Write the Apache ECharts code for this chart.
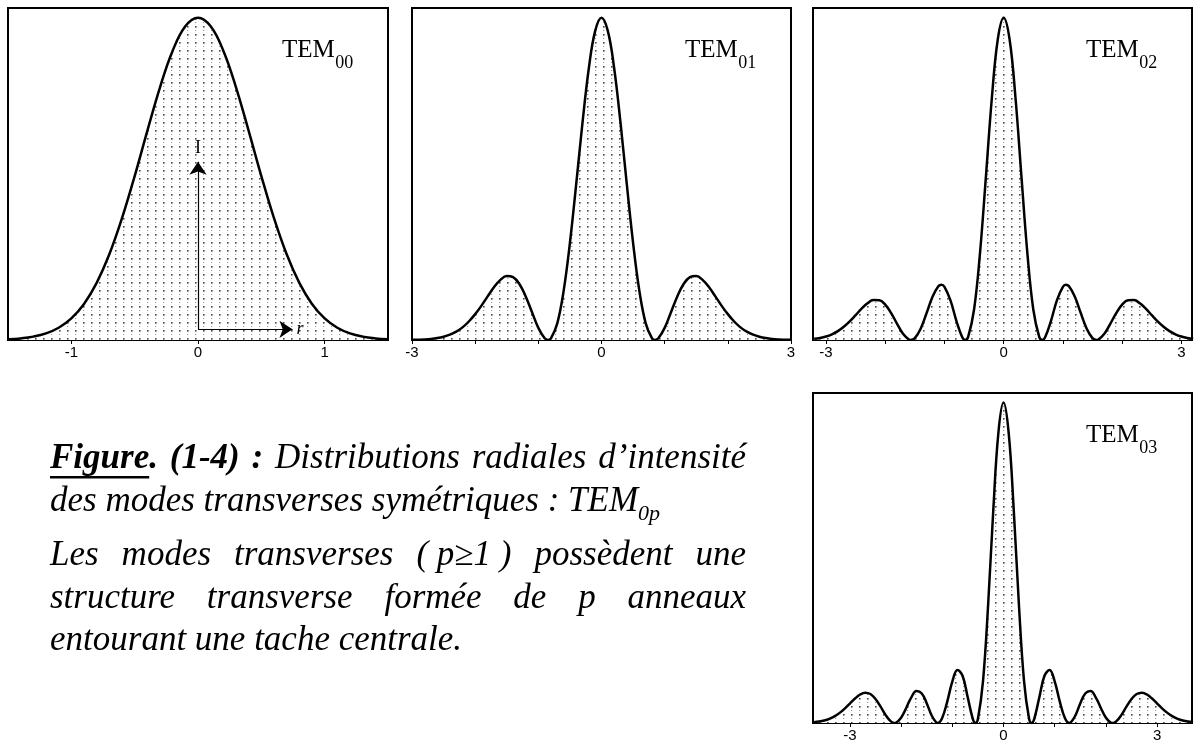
<!DOCTYPE html>
<html>
<head>
<meta charset="utf-8">
<script src="https://cdn.jsdelivr.net/npm/echarts@6/dist/echarts.min.js"></script>
<style>
  html, body { margin: 0; padding: 0; background: #fff; }
  #chart { width: 1194px; height: 751px; }
</style>
</head>
<body>
<div id="chart"></div>
<script>
// Radial intensity profiles of the symmetric transverse modes TEM0p.
// r = radial coordinate, i = normalised intensity.
const r00 = [-1.5,-1.4,-1.3,-1.2,-1.1,-1.0,-0.9,-0.8,-0.7,-0.6,-0.5,-0.4,-0.3,-0.2,-0.1,0,
             0.1,0.2,0.3,0.4,0.5,0.6,0.7,0.8,0.9,1.0,1.1,1.2,1.3,1.4,1.5];
const i00 = [0.0023,0.0050,0.0104,0.0204,0.0379,0.0669,0.1119,0.1772,0.2658,0.3778,0.5086,0.6488,0.7840,0.8975,0.9733,1.0000,
             0.9733,0.8975,0.7840,0.6488,0.5086,0.3778,0.2658,0.1772,0.1119,0.0669,0.0379,0.0204,0.0104,0.0050,0.0023];

const r01 = [-3.0,-2.9,-2.8,-2.7,-2.6,-2.5,-2.4,-2.3,-2.2,-2.1,-2.0,-1.9,-1.8,-1.7,-1.6,-1.5,-1.4,-1.3,-1.2,-1.1,-1.0,-0.9,-0.85,-0.8,-0.7,-0.6,-0.5,-0.4,-0.3,-0.2,-0.1,0,
             0.1,0.2,0.3,0.4,0.5,0.6,0.7,0.8,0.85,0.9,1.0,1.1,1.2,1.3,1.4,1.5,1.6,1.7,1.8,1.9,2.0,2.1,2.2,2.3,2.4,2.5,2.6,2.7,2.8,2.9,3.0];
const i01 = [0.0005,0.0010,0.0018,0.0033,0.0059,0.0100,0.0164,0.0258,0.0392,0.0574,0.0802,0.1067,0.1361,0.1641,0.1866,0.1984,0.1949,0.1736,0.1353,0.0863,0.0377,0.0051,0,0.0051,0.0517,0.1516,0.3011,0.4844,0.6757,0.8438,0.9590,1.0000,
             0.9590,0.8438,0.6757,0.4844,0.3011,0.1516,0.0517,0.0051,0,0.0051,0.0377,0.0863,0.1353,0.1736,0.1949,0.1984,0.1866,0.1641,0.1361,0.1067,0.0802,0.0574,0.0392,0.0258,0.0164,0.0100,0.0059,0.0033,0.0018,0.0010,0.0005];

const r02 = [-3.2,-3.1,-3.0,-2.9,-2.8,-2.7,-2.6,-2.5,-2.4,-2.3,-2.2,-2.1,-2.0,-1.9,-1.8,-1.7,-1.6,-1.57,-1.5,-1.4,-1.3,-1.2,-1.1,-1.05,-1.0,-0.9,-0.8,-0.7,-0.65,-0.6,-0.5,-0.4,-0.3,-0.2,-0.1,0,
             0.1,0.2,0.3,0.4,0.5,0.6,0.65,0.7,0.8,0.9,1.0,1.05,1.1,1.2,1.3,1.4,1.5,1.57,1.6,1.7,1.8,1.9,2.0,2.1,2.2,2.3,2.4,2.5,2.6,2.7,2.8,2.9,3.0,3.1,3.2];
const i02 = [0.0036,0.0064,0.0109,0.0178,0.0277,0.0411,0.0579,0.0772,0.0970,0.1139,0.1240,0.1233,0.1095,0.0834,0.0502,0.0191,0.0013,0,0.0059,0.0359,0.0845,0.1353,0.1677,0.1714,0.1649,0.1237,0.0602,0.0085,0,0.0095,0.0946,0.2696,0.5068,0.7500,0.9324,1.0000,
             0.9324,0.7500,0.5068,0.2696,0.0946,0.0095,0,0.0085,0.0602,0.1237,0.1649,0.1714,0.1677,0.1353,0.0845,0.0359,0.0059,0,0.0013,0.0191,0.0502,0.0834,0.1095,0.1233,0.1240,0.1139,0.0970,0.0772,0.0579,0.0411,0.0277,0.0178,0.0109,0.0064,0.0036];

const r03 = [-3.7,-3.6,-3.5,-3.4,-3.3,-3.2,-3.1,-3.0,-2.9,-2.8,-2.7,-2.6,-2.5,-2.4,-2.3,-2.2,-2.13,-2.1,-2.0,-1.9,-1.8,-1.7,-1.6,-1.5,-1.4,-1.3,-1.285,-1.2,-1.1,-1.0,-0.9,-0.8,-0.7,-0.6,-0.55,-0.5,-0.4,-0.3,-0.2,-0.1,0,
             0.1,0.2,0.3,0.4,0.5,0.55,0.6,0.7,0.8,0.9,1.0,1.1,1.2,1.285,1.3,1.4,1.5,1.6,1.7,1.8,1.9,2.0,2.1,2.13,2.2,2.3,2.4,2.5,2.6,2.7,2.8,2.9,3.0,3.1,3.2,3.3,3.4,3.5,3.6,3.7];
const i03 = [0.0024,0.0044,0.0078,0.0131,0.0209,0.0316,0.0451,0.0607,0.0763,0.0889,0.0946,0.0904,0.0751,0.0510,0.0245,0.0049,0,0.0008,0.0163,0.0470,0.0802,0.0995,0.0930,0.0619,0.0226,0.0004,0,0.0150,0.0662,0.1292,0.1654,0.1473,0.0808,0.0129,0,0.0124,0.1317,0.3707,0.6642,0.9063,1.0000,
             0.9063,0.6642,0.3707,0.1317,0.0124,0,0.0129,0.0808,0.1473,0.1654,0.1292,0.0662,0.0150,0,0.0004,0.0226,0.0619,0.0930,0.0995,0.0802,0.0470,0.0163,0.0008,0,0.0049,0.0245,0.0510,0.0751,0.0904,0.0946,0.0889,0.0763,0.0607,0.0451,0.0316,0.0209,0.0131,0.0078,0.0044,0.0024];

// Axis ticks and tick labels
const ticks00 = [-1, 0, 1];
const labels00 = [-1, 0, 1];
const ticks0p = [-3, -2, -1, 0, 1, 2, 3];
const labels0p = [-3, 0, 3];

// Mode names (subscript part)
const modeNames = ['00', '01', '02', '03'];

// Coordinate-axis sketch drawn inside the TEM00 panel
const sketchOrigin = [0, 0.033];
const sketchTopI = 0.553;
const sketchEndR = 0.746;

const panels = [
  { grid: { left: 8,   top: 8,   width: 380, height: 332 }, min: -1.5,  max: 1.5,  ticks: ticks00, labels: labels00, r: r00, i: i00 },
  { grid: { left: 412, top: 8,   width: 379, height: 332 }, min: -3,    max: 3,    ticks: ticks0p, labels: labels0p, r: r01, i: i01 },
  { grid: { left: 813, top: 8,   width: 379, height: 332 }, min: -3.22, max: 3.18, ticks: ticks0p, labels: labels0p, r: r02, i: i02 },
  { grid: { left: 813, top: 393, width: 379, height: 330 }, min: -3.72, max: 3.68, ticks: ticks0p, labels: labels0p, r: r03, i: i03 }
];

const SERIF = '"Liberation Serif", "Times New Roman", serif';
const SANS = '"Liberation Sans", Arial, sans-serif';

// dotted fill tile
function dotTile() {
  const c = document.createElement('canvas');
  c.width = 8; c.height = 8;
  const g = c.getContext('2d');
  g.fillStyle = '#ffffff';
  g.fillRect(0, 0, 8, 8);
  g.fillStyle = '#4a4a4a';
  g.fillRect(3, 2, 1.6, 1.6);
  g.fillStyle = '#9a9a9a';
  g.fillRect(3, 6, 1.2, 1.0);
  return c;
}
const tile = dotTile();

const measureCtx = document.createElement('canvas').getContext('2d');
function textWidth(text, font) {
  measureCtx.font = font;
  return measureCtx.measureText(text).width;
}

const grids = [], xAxes = [], yAxes = [], series = [], graphics = [];

panels.forEach((p, k) => {
  grids.push(Object.assign({ show: true, borderColor: '#000', borderWidth: 2, backgroundColor: 'transparent' }, p.grid));
  xAxes.push({
    type: 'value', gridIndex: k, min: p.min, max: p.max,
    axisLine: { show: true, onZero: false, lineStyle: { color: '#000', width: 2 } },
    axisTick: { show: true, inside: false, length: 4, customValues: p.ticks, lineStyle: { color: '#000', width: 1 } },
    axisLabel: { show: true, customValues: p.labels, color: '#000', fontFamily: SANS, fontSize: 15, margin: 5 },
    splitLine: { show: false }
  });
  yAxes.push({
    type: 'value', gridIndex: k, min: 0, max: 1.03,
    axisLine: { show: false }, axisTick: { show: false }, axisLabel: { show: false }, splitLine: { show: false }
  });
  const s = {
    type: 'line', xAxisIndex: k, yAxisIndex: k,
    data: p.r.map((r, j) => [r, p.i[j]]),
    smooth: 0.4, symbol: 'none', showSymbol: false,
    lineStyle: { color: '#000', width: 2.5 },
    areaStyle: { color: { image: tile, repeat: 'repeat' }, opacity: 1 },
    silent: true, animation: false, z: 3
  };
  if (k === 0) {
    s.markLine = {
      silent: true, animation: false, symbol: ['none', 'arrow'], symbolSize: 13,
      lineStyle: { color: '#000', width: 1.2, type: 'solid' },
      emphasis: { disabled: true },
      data: [
        [{ coord: sketchOrigin }, { coord: [sketchOrigin[0], sketchTopI],
           label: { show: true, position: 'end', formatter: 'I', distance: 4, color: '#000', fontFamily: SERIF, fontSize: 18 } }],
        [{ coord: sketchOrigin }, { coord: [sketchEndR, sketchOrigin[1]],
           label: { show: true, position: 'end', formatter: 'r', distance: 4, color: '#000', fontFamily: SERIF, fontStyle: 'italic', fontSize: 18 } }]
      ]
    };
  }
  series.push(s);

  // mode name: TEM with subscript
  const g = p.grid;
  const tx = g.left + g.width - 106;
  const baseY = g.top + 51;
  const temFont = '25px ' + SERIF;
  const subFont = '18px ' + SERIF;
  graphics.push({ type: 'text', x: tx, y: baseY - 8.5, silent: true, z: 10,
    style: { text: 'TEM', font: temFont, fill: '#000', align: 'left', verticalAlign: 'middle' } });
  graphics.push({ type: 'text', x: tx + textWidth('TEM', temFont) + 0.5, y: baseY + 4, silent: true, z: 10,
    style: { text: modeNames[k], font: subFont, fill: '#000', align: 'left', verticalAlign: 'middle' } });
});

// Caption (justified paragraph)
const capSize = 35;
const fI = 'italic ' + capSize + 'px ' + SERIF;
const fB = 'italic bold ' + capSize + 'px ' + SERIF;
const capLeft = 50, capRight = 746;
const capLines = [
  { base: 471,   justify: true,  words: [['Figure.', fB], ['(1-4)', fB], [':', fB], ['Distributions', fI], ['radiales', fI], ['d’intensité', fI]] },
  { base: 513.5, justify: false, words: [['des modes transverses symétriques : TEM', fI]], sub: '0p' },
  { base: 568,   justify: true,  words: [['Les', fI], ['modes', fI], ['transverses', fI], ['( p≥1 )', fI], ['possèdent', fI], ['une', fI]] },
  { base: 610.5, justify: true,  words: [['structure', fI], ['transverse', fI], ['formée', fI], ['de', fI], ['p', fI], ['anneaux', fI]] },
  { base: 653,   justify: false, words: [['entourant une tache centrale.', fI]] }
];
const midShift = 0.3375; // em offset from alphabetic baseline to text middle

capLines.forEach(line => {
  const widths = line.words.map(w => textWidth(w[0], w[1]));
  const total = widths.reduce((a, b) => a + b, 0);
  const gap = line.justify && line.words.length > 1
    ? (capRight - capLeft - total) / (line.words.length - 1)
    : textWidth(' ', fI);
  const y = line.base - midShift * capSize;
  let x = capLeft;
  line.words.forEach((w, j) => {
    graphics.push({ type: 'text', x: x, y: y, silent: true,
      style: { text: w[0], font: w[1], fill: '#000', align: 'left', verticalAlign: 'middle' } });
    if (w[0] === 'Figure.') {
      graphics.push({ type: 'rect', silent: true,
        shape: { x: x, y: line.base + 5, width: textWidth('Figure', w[1]), height: 2.5 },
        style: { fill: '#000' } });
    }
    x += widths[j] + gap;
  });
  if (line.sub) {
    const endX = capLeft + widths[0];
    const subSize = 22;
    graphics.push({ type: 'text', x: endX, y: line.base + 8 - midShift * subSize, silent: true,
      style: { text: line.sub, font: 'italic ' + subSize + 'px ' + SERIF, fill: '#000', align: 'left', verticalAlign: 'middle' } });
  }
});

const chart = echarts.init(document.getElementById('chart'), null, { renderer: 'canvas' });
chart.setOption({
  animation: false,
  backgroundColor: '#ffffff',
  grid: grids,
  xAxis: xAxes,
  yAxis: yAxes,
  series: series,
  graphic: { elements: graphics }
});
</script>
</body>
</html>
